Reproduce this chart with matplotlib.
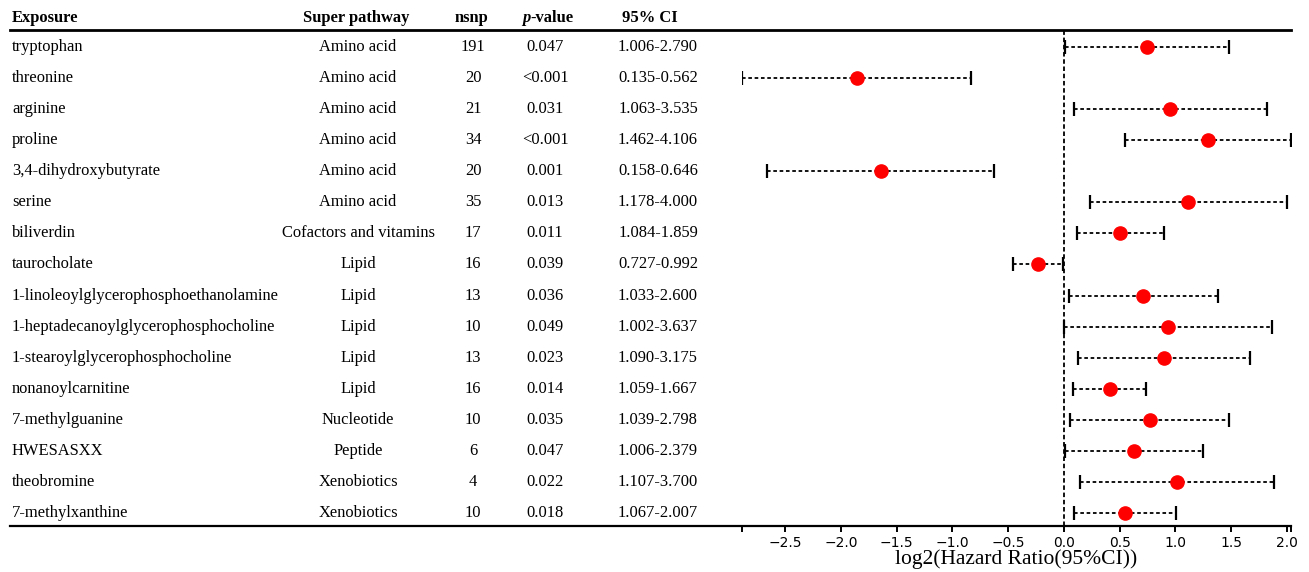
import numpy as np
import matplotlib.pyplot as plt
from matplotlib.lines import Line2D

# 表格数据
exposure = ['tryptophan', 'threonine', 'arginine', 'proline', '3,4-dihydroxybutyrate',
            'serine', 'biliverdin', 'taurocholate', '1-linoleoylglycerophosphoethanolamine',
            '1-heptadecanoylglycerophosphocholine', '1-stearoylglycerophosphocholine',
            'nonanoylcarnitine', '7-methylguanine', 'HWESASXX', 'theobromine', '7-methylxanthine']
pathway = ['Amino acid', 'Amino acid', 'Amino acid', 'Amino acid', 'Amino acid', 'Amino acid',
           'Cofactors and vitamins', 'Lipid', 'Lipid', 'Lipid', 'Lipid', 'Lipid',
           'Nucleotide', 'Peptide', 'Xenobiotics', 'Xenobiotics']
nsnp = ['191', '20', '21', '34', '20', '35', '17', '16', '13', '10', '13', '16', '10', '6', '4', '10']
pval = ['0.047', '<0.001', '0.031', '<0.001', '0.001', '0.013', '0.011', '0.039', '0.036',
        '0.049', '0.023', '0.014', '0.035', '0.047', '0.022', '0.018']
ci_text = ['1.006-2.790', '0.135-0.562', '1.063-3.535', '1.462-4.106', '0.158-0.646',
           '1.178-4.000', '1.084-1.859', '0.727-0.992', '1.033-2.600', '1.002-3.637',
           '1.090-3.175', '1.059-1.667', '1.039-2.798', '1.006-2.379', '1.107-3.700',
           '1.067-2.007']

# log2(HR) 及 95%CI
est = [0.744, -1.860, 0.955, 1.293, -1.646, 1.118, 0.505, -0.236, 0.713, 0.933,
       0.896, 0.410, 0.770, 0.629, 1.017, 0.549]
lo = [0.009, -2.889, 0.088, 0.548, -2.662, 0.236, 0.116, -0.460, 0.047, 0.003,
      0.124, 0.083, 0.055, 0.009, 0.147, 0.094]
hi = [1.480, -0.831, 1.822, 2.038, -0.630, 2.000, 0.895, -0.012, 1.379, 1.863,
      1.667, 0.737, 1.484, 1.250, 1.888, 1.005]

xticks = [-2.889, -2.5, -2.0, -1.5, -1.0, -0.5, 0.0, 0.5, 1.0, 1.5, 2.0, 2.038]
xticklabels = ['', '−2.5', '−2.0', '−1.5', '−1.0', '−0.5', '0.0', '0.5', '1.0', '1.5', '2.0', '']

W, H = 1309, 572
serif = 'Liberation Serif'

fig = plt.figure(figsize=(W / 100, H / 100), dpi=100)

top_px, bot_px = 30, 526
row0_px, step_px = 47, 31.07
n = len(exposure)
ylim = ((bot_px - row0_px) / step_px, -(row0_px - top_px) / step_px)

# 右侧森林图
ax = fig.add_axes([742 / W, 1 - bot_px / H, (1291 - 742) / W, (bot_px - top_px) / H])
ax.set_xlim(-2.889, 2.038)
ax.set_ylim(*ylim)
for s in ax.spines.values():
    s.set_visible(False)
ax.set_yticks([])
ax.set_xticks(xticks)
ax.set_xticklabels(xticklabels, fontsize=10)
ax.tick_params(axis='x', direction='out', length=4.5, width=1.4, pad=2.5)
ax.set_xlabel('log2(Hazard Ratio(95%CI))', fontfamily=serif, fontsize=15.5, labelpad=0)

ax.axvline(0, color='black', lw=1.3, ls=(0, (2.5, 1.5)))
y = np.arange(n)
ax.hlines(y, lo, hi, color='black', lw=1.3, ls=(0, (2, 1.5)))
ax.plot(lo, y, ls='none', marker='|', ms=10, mew=1.6, color='black')
ax.plot(hi, y, ls='none', marker='|', ms=10, mew=1.6, color='black')
ax.plot(est, y, ls='none', marker='o', ms=9.5, color='red', zorder=5)

# 左侧表格
tax = fig.add_axes([0, 1 - bot_px / H, 742 / W, (bot_px - top_px) / H])
tax.set_xlim(0, 742)
tax.set_ylim(*ylim)
tax.axis('off')

fs = 11.9
hy = -(row0_px - 18) / step_px
tax.text(12, hy, 'Exposure', fontfamily=serif, fontweight='bold', fontsize=fs, va='center', ha='left')
tax.text(356, hy, 'Super pathway', fontfamily=serif, fontweight='bold', fontsize=fs, va='center', ha='center')
tax.text(471, hy, 'nsnp', fontfamily=serif, fontweight='bold', fontsize=fs, va='center', ha='center')
tax.text(530, hy, 'p', fontfamily=serif, fontweight='bold', style='italic', fontsize=fs, va='center', ha='right')
tax.text(530, hy, '-value', fontfamily=serif, fontweight='bold', fontsize=fs, va='center', ha='left')
tax.text(650, hy, '95% CI', fontfamily=serif, fontweight='bold', fontsize=fs, va='center', ha='center')

for i in range(n):
    tax.text(12, i, exposure[i], fontfamily=serif, fontsize=fs, va='center', ha='left')
    tax.text(358, i, pathway[i], fontfamily=serif, fontsize=fs, va='center', ha='center')
    tax.text(473, i, nsnp[i], fontfamily=serif, fontsize=fs, va='center', ha='center')
    tax.text(545, i, pval[i], fontfamily=serif, fontsize=fs, va='center', ha='center')
    tax.text(658, i, ci_text[i], fontfamily=serif, fontsize=fs, va='center', ha='center')

# 表头线和底线
fig.add_artist(Line2D([10 / W, 1291 / W], [1 - top_px / H] * 2, color='black', lw=2))
fig.add_artist(Line2D([10 / W, 1291 / W], [1 - bot_px / H] * 2, color='black', lw=1.6))

fig.savefig('out.png', dpi=100)
